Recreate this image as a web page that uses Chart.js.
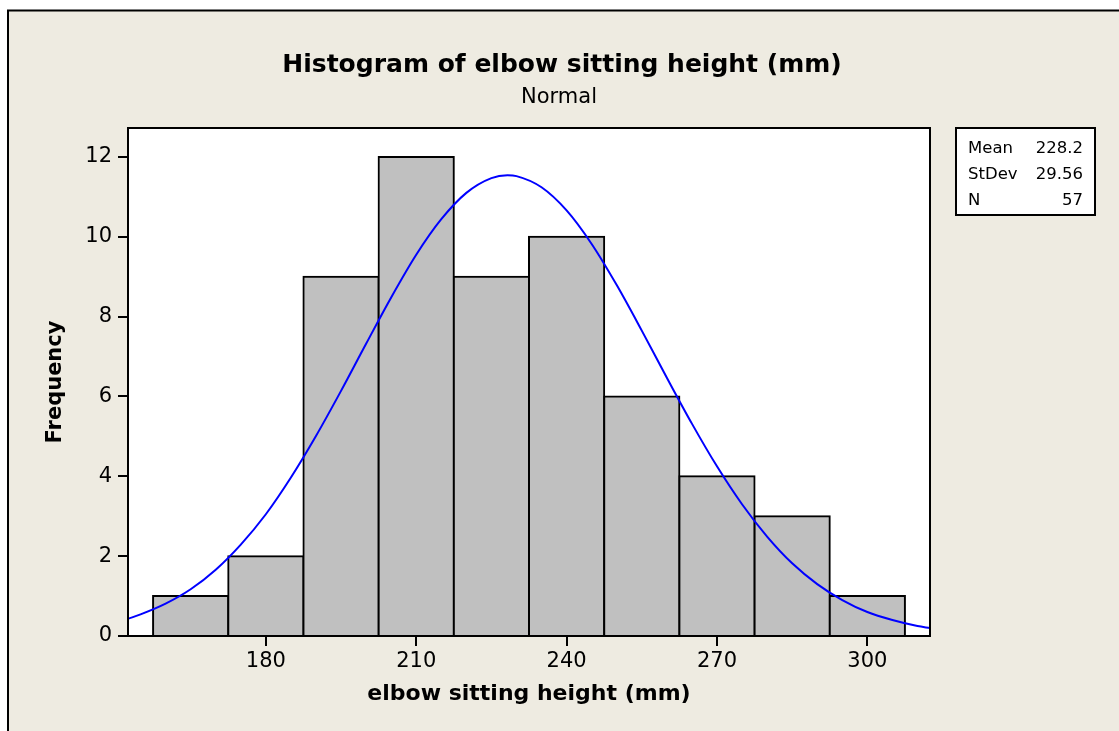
<!DOCTYPE html>
<html>
<head>
<meta charset="utf-8">
<title>Histogram of elbow sitting height (mm)</title>
<script src="https://cdn.jsdelivr.net/npm/chart.js@4.4.1/dist/chart.umd.min.js"></script>
<style>
  html, body { margin: 0; padding: 0; background: #ffffff; overflow: hidden; }
  #wrap { width: 1119px; height: 731px; position: relative; }
</style>
</head>
<body>
<div id="wrap"><canvas id="chart" width="1119" height="731"></canvas></div>
<script>
// Histogram bins (class width 15 mm), given by their mid-points
const binCenters = [165, 180, 195, 210, 225, 240, 255, 270, 285, 300];
const binCounts  = [1, 2, 9, 12, 9, 10, 6, 4, 3, 1];

// Fitted normal curve, read point by point (x in mm, y in frequency units)
const curveX = [152.5, 155, 160, 165, 170, 175, 180, 185, 190, 195, 200, 205, 210, 215, 220, 225, 228.2,
                230, 235, 240, 245, 250, 255, 260, 265, 270, 275, 280, 285, 290, 295, 300, 305, 310, 312.5];
const curveY = [0.43, 0.54, 0.81, 1.17, 1.66, 2.29, 3.05, 3.97, 5.01, 6.14, 7.32, 8.48, 9.55, 10.44, 11.10, 11.47, 11.54,
                11.52, 11.24, 10.66, 9.82, 8.79, 7.65, 6.47, 5.32, 4.25, 3.30, 2.49, 1.82, 1.30, 0.90, 0.60, 0.40, 0.25, 0.20];

// Axis ticks and ranges
const xTicks = [180, 210, 240, 270, 300];
const yTicks = [0, 2, 4, 6, 8, 10, 12];
const xRange = [152.5, 312.5];
const yRange = [0, 12.725];

// Summary statistics shown in the box
const statLabels = ['Mean', 'StDev', 'N'];
const statValues = ['228.2', '29.56', '57'];

const chartTitle = 'Histogram of elbow sitting height (mm)';
const chartSubtitle = 'Normal';
const xTitle = 'elbow sitting height (mm)';
const yTitle = 'Frequency';

const FONT = "'DejaVu Sans', Verdana, sans-serif";
const BEIGE = '#EEEBE1';

// Page background, outer frame, plot panel, titles and statistics box
const decorations = {
  id: 'decorations',
  beforeDraw(chart) {
    const ctx = chart.ctx;
    const a = chart.chartArea;
    ctx.save();
    ctx.fillStyle = '#ffffff';
    ctx.fillRect(0, 0, chart.width, chart.height);
    ctx.fillStyle = BEIGE;
    ctx.fillRect(8, 10.5, chart.width + 20, chart.height + 20);
    ctx.strokeStyle = '#000000';
    ctx.lineWidth = 2;
    ctx.strokeRect(8, 10.5, chart.width + 20, chart.height + 20);
    ctx.fillStyle = '#ffffff';
    ctx.fillRect(a.left, a.top, a.right - a.left, a.bottom - a.top);

    // titles
    ctx.fillStyle = '#000000';
    ctx.textAlign = 'center';
    ctx.textBaseline = 'alphabetic';
    ctx.font = 'bold 25px ' + FONT;
    ctx.fillText(chartTitle, 562, 72);
    ctx.font = '21px ' + FONT;
    ctx.fillText(chartSubtitle, 559, 103);

    // statistics box
    const bx = a.right + 26, by = a.top, bw = 139, bh = 87;
    ctx.fillStyle = '#ffffff';
    ctx.fillRect(bx, by, bw, bh);
    ctx.lineWidth = 2;
    ctx.strokeStyle = '#000000';
    ctx.strokeRect(bx, by, bw, bh);
    ctx.fillStyle = '#000000';
    ctx.font = '16.5px ' + FONT;
    statLabels.forEach((lab, i) => {
      const y = by + 25 + i * 26;
      ctx.textAlign = 'left';
      ctx.fillText(lab, bx + 12, y);
      ctx.textAlign = 'right';
      ctx.fillText(statValues[i], bx + bw - 12, y);
    });
    ctx.restore();
  },
  afterDatasetsDraw(chart) {
    const ctx = chart.ctx;
    const a = chart.chartArea;
    ctx.save();
    ctx.strokeStyle = '#000000';
    ctx.lineWidth = 2;
    ctx.strokeRect(a.left, a.top, a.right - a.left, a.bottom - a.top);
    ctx.restore();
  }
};

const tickFont = { family: FONT, size: 21 };

new Chart(document.getElementById('chart'), {
  type: 'bar',
  data: {
    datasets: [
      {
        type: 'line',
        label: 'Normal fit',
        data: curveX.map((x, i) => ({ x: x, y: curveY[i] })),
        borderColor: '#0000FF',
        borderWidth: 2,
        pointRadius: 0,
        fill: false,
        cubicInterpolationMode: 'monotone',
        order: 0
      },
      {
        type: 'bar',
        label: 'Frequency',
        data: binCenters.map((x, i) => ({ x: x, y: binCounts[i] })),
        backgroundColor: '#C0C0C0',
        borderColor: '#000000',
        borderWidth: 2,
        borderSkipped: 'start',
        inflateAmount: 1,
        barPercentage: 1.0,
        categoryPercentage: 1.0,
        order: 1
      }
    ]
  },
  options: {
    responsive: false,
    devicePixelRatio: 1,
    animation: false,
    events: [],
    layout: { padding: { top: 128, left: 0, right: 189, bottom: 0 } },
    plugins: {
      legend: { display: false },
      title: { display: false },
      tooltip: { enabled: false }
    },
    scales: {
      x: {
        type: 'linear',
        offset: false,
        min: xRange[0],
        max: xRange[1],
        afterBuildTicks: s => { s.ticks = xTicks.map(v => ({ value: v })); },
        afterFit: s => { s.height = 95; },
        ticks: { font: tickFont, color: '#000000', padding: 3, maxRotation: 0 },
        grid: { display: true, offset: false, drawOnChartArea: false, drawTicks: true, tickLength: 10, color: '#000000', lineWidth: 2 },
        border: { display: false },
        title: { display: true, text: xTitle, color: '#000000', font: { family: FONT, size: 22, weight: 'bold' }, padding: { top: 0, bottom: 24 } }
      },
      y: {
        type: 'linear',
        min: yRange[0],
        max: yRange[1],
        afterBuildTicks: s => { s.ticks = yTicks.map(v => ({ value: v })); },
        afterFit: s => { s.width = 128; },
        ticks: { font: tickFont, color: '#000000', padding: 6 },
        grid: { display: true, offset: false, drawOnChartArea: false, drawTicks: true, tickLength: 10, color: '#000000', lineWidth: 2 },
        border: { display: false },
        title: { display: true, text: yTitle, color: '#000000', font: { family: FONT, size: 21, weight: 'bold' }, padding: { top: 43, bottom: 0 } }
      }
    }
  },
  plugins: [decorations]
});
</script>
</body>
</html>
